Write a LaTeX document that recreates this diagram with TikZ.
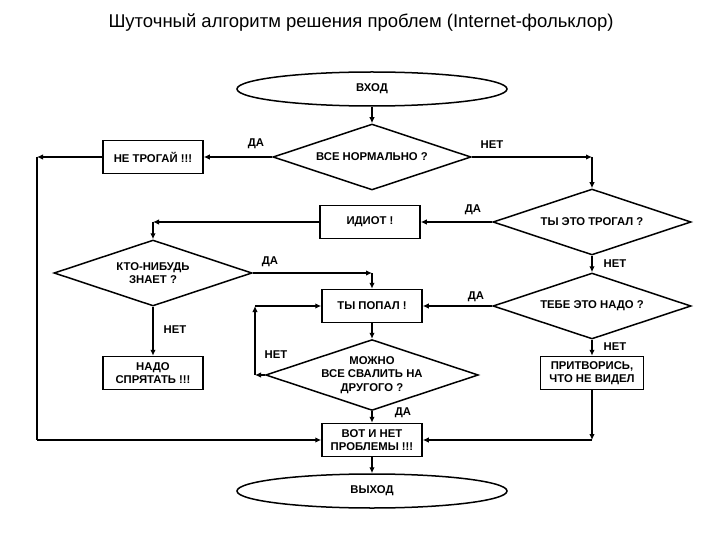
\documentclass[tikz,border=0pt]{standalone}
\usepackage{fontspec}
\setmainfont{Liberation Sans}
\usetikzlibrary{shapes.geometric,arrows.meta}
\begin{document}
\begin{tikzpicture}[x=1pt,y=-1pt,
  every node/.style={font=\fontsize{11.3}{13.5}\selectfont\bfseries,align=center},
  box/.style={draw,line width=1.5pt,minimum width=100pt,minimum height=33pt,inner sep=1pt},
  dia/.style={draw,line width=1.5pt,diamond,aspect=3,minimum width=198pt,minimum height=66pt,inner sep=0pt},
  ell/.style={draw,line width=1.5pt,ellipse,minimum width=270pt,minimum height=34pt},
  lab/.style={inner sep=0pt},
  ln/.style={line width=1.5pt},
  ar/.style={line width=1.5pt,-{Latex[length=6pt,width=5.5pt]}}]
\useasboundingbox (0,0) rectangle (720,540);
\node[font=\fontsize{18.5}{21}\selectfont] (title) at (361,23) {Шуточный алгоритм решения проблем (Internet-фольклор)};
\node[ell] (in) at (372,89) {ВХОД};
\node[dia] (ok) at (372,157) {ВСЕ НОРМАЛЬНО ?};
\node[box] (dont) at (153,157) {НЕ ТРОГАЙ !!!};
\node[dia] (touch) at (592,222) {ТЫ ЭТО ТРОГАЛ ?};
\node[box] (idiot) at (370,222) {ИДИОТ !};
\node[dia] (know) at (153,273) {КТО-НИБУДЬ\\ЗНАЕТ ?};
\node[box] (hit) at (372,306) {ТЫ ПОПАЛ !};
\node[dia] (need) at (592,306) {ТЕБЕ ЭТО НАДО ?};
\node[box] (hide) at (153,373) {НАДО\\СПРЯТАТЬ !!!};
\node[box,minimum width=103pt] (pret) at (592,373) {ПРИТВОРИСЬ,\\ЧТО НЕ ВИДЕЛ};
\node[dia,minimum width=204pt] (blame) at (372,375) {МОЖНО\\ВСЕ СВАЛИТЬ НА\\ДРУГОГО ?};
\node[box] (done) at (372,440) {ВОТ И НЕТ\\ПРОБЛЕМЫ !!!};
\node[ell] (out) at (372,491) {ВЫХОД};
\coordinate (c1) at (37,157);
\coordinate (c2) at (37,440);
\coordinate (c3) at (592,157);
\coordinate (c4) at (153,222);
\coordinate (c5) at (372,273);
\coordinate (c6) at (255,375);
\coordinate (c7) at (255,306);
\coordinate (c8) at (592,440);
\draw[ar] (in) -- (ok);
\draw[ar] (ok.west) -- (dont);
\draw[ar] (dont) -- (c1);
\draw[ln] (c1) -- (c2);
\draw[ar] (c2) -- (done.west);
\draw[ar] (ok.east) -- (c3);
\draw[ar] (c3) -- (touch.north);
\draw[ar] (touch.west) -- (idiot);
\draw[ar] (idiot) -- (c4);
\draw[ar] (c4) -- (know.north);
\draw[ar] (know.east) -- (c5);
\draw[ar] (c5) -- (hit.north);
\draw[ar] (know.south) -- (hide);
\draw[ar] (touch.south) -- (need.north);
\draw[ar] (need.west) -- (hit.east);
\draw[ar] (need.south) -- (pret.north);
\draw[ar] (pret.south) -- (c8);
\draw[ar] (c8) -- (done.east);
\draw[ar] (hit) -- (blame.north);
\draw[ar] (blame.west) -- (c6);
\draw[ar] (c6) -- (c7);
\draw[ar] (c7) -- (hit.west);
\draw[ar] (blame.south) -- (done);
\draw[ar] (done) -- (out);
\node[lab] (l1) at (256,144) {ДА};
\node[lab] (l2) at (492,145) {НЕТ};
\node[lab] (l3) at (473,210) {ДА};
\node[lab] (l4) at (270,262) {ДА};
\node[lab] (l5) at (615,264) {НЕТ};
\node[lab] (l6) at (476,297) {ДА};
\node[lab] (l7) at (175,330) {НЕТ};
\node[lab] (l8) at (615,347) {НЕТ};
\node[lab] (l9) at (276,355) {НЕТ};
\node[lab] (l10) at (403,413) {ДА};
\end{tikzpicture}
\end{document}
